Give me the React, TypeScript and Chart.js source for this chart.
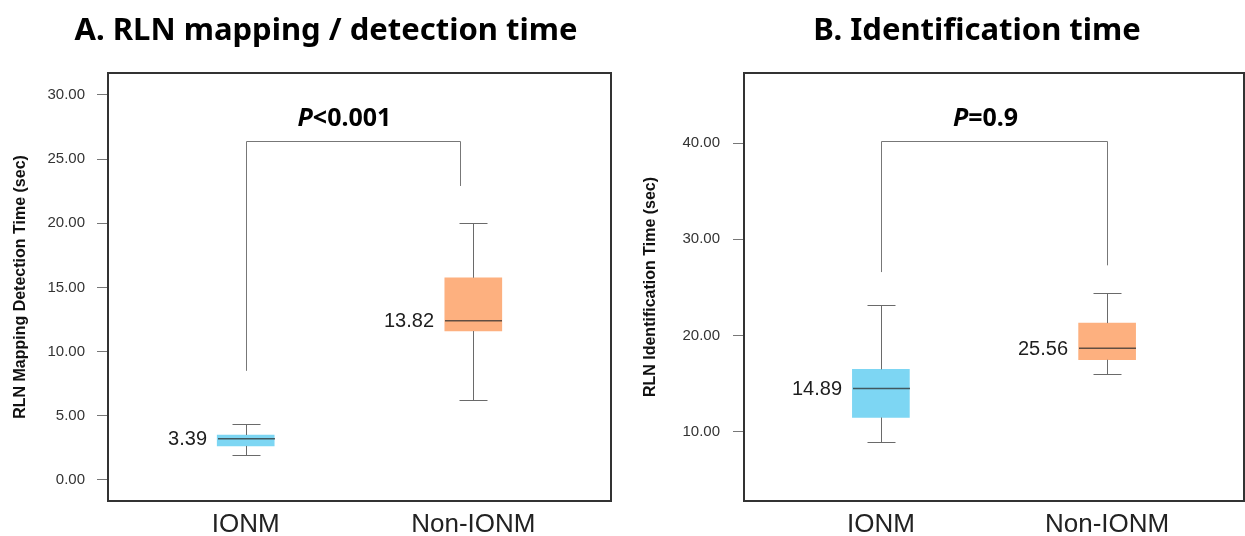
import React, { useEffect, useRef } from 'react';
import { Chart, registerables } from 'chart.js';

Chart.register(...registerables);

// ---------- data ----------
const categories = ['IONM', 'Non-IONM'];

// Panel A: RLN mapping / detection time (sec)
const mappingMin = [1.95, 6.2];
const mappingQ1 = [2.65, 11.6];
const mappingMedian = [3.2, 12.4];
const mappingQ3 = [3.5, 15.75];
const mappingMax = [4.35, 20.0];
const mappingMeanLabels = ['3.39', '13.82'];
const mappingTicks = [0, 5, 10, 15, 20, 25, 30];
const mappingBracket = [8.5, 26.4, 22.9]; // left leg bottom, top, right leg bottom
const mappingBracketX = [1, 1.94];
const mappingP = ['P', '<0.001'];

// Panel B: RLN identification time (sec)
const identMin = [9.0, 16.0];
const identQ1 = [11.5, 17.5];
const identMedian = [14.5, 18.7];
const identQ3 = [16.5, 21.3];
const identMax = [23.2, 24.4];
const identMeanLabels = ['14.89', '25.56'];
const identTicks = [10, 20, 30, 40];
const identBracket = [26.6, 40.2, 27.3];
const identBracketX = [1, 2];
const identP = ['P', '=0.9'];

const boxColors = ['#7DD6F3', '#FDB07F'];

interface Panel {
  yTitle: string;
  min: number[];
  q1: number[];
  median: number[];
  q3: number[];
  max: number[];
  meanLabels: string[];
  ticks: number[];
  yMin: number;
  yMax: number;
  bracket: number[];
  bracketX: number[];
  p: string[];
  axisWidth: number;
  padRight: number;
  titlePad: number;
  tickPad: number;
}

const panelA: Panel = {
  yTitle: 'RLN Mapping Detection Time (sec)',
  min: mappingMin,
  q1: mappingQ1,
  median: mappingMedian,
  q3: mappingQ3,
  max: mappingMax,
  meanLabels: mappingMeanLabels,
  ticks: mappingTicks,
  yMin: -1.64,
  yMax: 31.7,
  bracket: mappingBracket,
  bracketX: mappingBracketX,
  p: mappingP,
  axisWidth: 108,
  padRight: 9,
  titlePad: 10.5,
  tickPad: 12,
};

const panelB: Panel = {
  yTitle: 'RLN Identification Time (sec)',
  min: identMin,
  q1: identQ1,
  median: identMedian,
  q3: identQ3,
  max: identMax,
  meanLabels: identMeanLabels,
  ticks: identTicks,
  yMin: 2.83,
  yMax: 47.27,
  bracket: identBracket,
  bracketX: identBracketX,
  p: identP,
  axisWidth: 124,
  padRight: 1,
  titlePad: 20.5,
  tickPad: 13,
};

const SANS = '"Liberation Sans", Arial, sans-serif';
const HEAD = '"Noto Sans", "Open Sans", sans-serif';

function line(ctx: CanvasRenderingContext2D, x1: number, y1: number, x2: number, y2: number) {
  ctx.beginPath();
  ctx.moveTo(x1, y1);
  ctx.lineTo(x2, y2);
  ctx.stroke();
}

function makeDecor(panel: Panel) {
  return {
    id: 'boxDecor',
    afterDatasetsDraw(chart: any) {
      const { ctx, chartArea } = chart;
      const xs = chart.scales.x;
      const ys = chart.scales.y;
      const meta = chart.getDatasetMeta(0);
      const r = (v: number) => Math.round(v) + 0.5;
      ctx.save();
      categories.forEach((_, i) => {
        const cx = r(xs.getPixelForValue(i + 1));
        const el = meta.data[i];
        const bw = el && el.width ? el.width : 57;
        const capHalf = 14;
        // whiskers
        ctx.strokeStyle = '#6a6a6a';
        ctx.lineWidth = 1;
        const yMax = r(ys.getPixelForValue(panel.max[i]));
        const yMin = r(ys.getPixelForValue(panel.min[i]));
        const yQ1 = ys.getPixelForValue(panel.q1[i]);
        const yQ3 = ys.getPixelForValue(panel.q3[i]);
        line(ctx, cx, yQ3, cx, yMax);
        line(ctx, cx, yQ1, cx, yMin);
        line(ctx, cx - capHalf, yMax, cx + capHalf, yMax);
        line(ctx, cx - capHalf, yMin, cx + capHalf, yMin);
        // median
        const yMed = ys.getPixelForValue(panel.median[i]);
        ctx.strokeStyle = 'rgba(45,45,45,0.75)';
        ctx.lineWidth = 1.5;
        line(ctx, cx - bw / 2, yMed, cx + bw / 2, yMed);
        // mean label
        ctx.fillStyle = '#1e1e1e';
        ctx.font = `20px ${SANS}`;
        ctx.textAlign = 'right';
        ctx.textBaseline = 'middle';
        ctx.fillText(panel.meanLabels[i], cx - bw / 2 - 11, yMed + 1);
      });
      // bracket
      const bx1 = r(xs.getPixelForValue(panel.bracketX[0]));
      const bx2 = r(xs.getPixelForValue(panel.bracketX[1]));
      const byL = ys.getPixelForValue(panel.bracket[0]);
      const byT = r(ys.getPixelForValue(panel.bracket[1]));
      const byR = ys.getPixelForValue(panel.bracket[2]);
      ctx.strokeStyle = '#777';
      ctx.lineWidth = 1;
      ctx.beginPath();
      ctx.moveTo(bx1, byL);
      ctx.lineTo(bx1, byT);
      ctx.lineTo(bx2, byT);
      ctx.lineTo(bx2, byR);
      ctx.stroke();
      // P value
      const fontP = `italic bold 25px ${HEAD}`;
      const fontRest = `bold 25px ${HEAD}`;
      ctx.font = fontP;
      const wP = ctx.measureText(panel.p[0]).width;
      ctx.font = fontRest;
      const wR = ctx.measureText(panel.p[1]).width;
      const centerX = (bx1 + bx2) / 2 - 9;
      const startX = centerX - (wP + wR) / 2;
      const baseY = byT - 16;
      ctx.fillStyle = '#000';
      ctx.textAlign = 'left';
      ctx.textBaseline = 'alphabetic';
      ctx.font = fontP;
      ctx.fillText(panel.p[0], startX, baseY);
      ctx.font = fontRest;
      ctx.fillText(panel.p[1], startX + wP, baseY);
      // frame
      ctx.strokeStyle = '#333';
      ctx.lineWidth = 2;
      ctx.strokeRect(
        chartArea.left,
        chartArea.top,
        chartArea.right - chartArea.left,
        chartArea.bottom - chartArea.top
      );
      ctx.restore();
    },
  };
}

function buildConfig(panel: Panel): any {
  return {
    type: 'bar',
    data: {
      datasets: [
        {
          data: categories.map((_, i) => ({ x: i + 1, y: [panel.q1[i], panel.q3[i]] })),
          backgroundColor: boxColors,
          borderWidth: 0,
          barThickness: 57,
          grouped: false,
        },
      ],
    },
    options: {
      responsive: false,
      animation: false,
      events: [],
      layout: { padding: { top: 73, right: panel.padRight, left: 0, bottom: 0 } },
      plugins: {
        legend: { display: false },
        tooltip: { enabled: false },
        title: { display: false },
      },
      scales: {
        x: {
          type: 'linear',
          min: 0.395,
          max: 2.605,
          offset: false,
          afterBuildTicks: (s: any) => {
            s.ticks = categories.map((_, i) => ({ value: i + 1 }));
          },
          afterFit: (s: any) => {
            s.height = 35;
          },
          grid: { display: false, drawTicks: false },
          border: { display: false },
          ticks: {
            autoSkip: false,
            maxRotation: 0,
            padding: 8,
            color: '#222',
            font: { family: SANS, size: 26 },
            callback: (_v: any, i: number) => categories[i],
          },
        },
        y: {
          type: 'linear',
          min: panel.yMin,
          max: panel.yMax,
          afterBuildTicks: (s: any) => {
            s.ticks = panel.ticks.map((v) => ({ value: v }));
          },
          afterFit: (s: any) => {
            s.width = panel.axisWidth;
          },
          grid: { drawOnChartArea: false, drawTicks: true, tickLength: 11, color: '#777', lineWidth: 1 },
          border: { display: false },
          ticks: {
            padding: panel.tickPad,
            color: '#333',
            font: { family: SANS, size: 15 },
            callback: (v: any) => Number(v).toFixed(2),
          },
          title: {
            display: true,
            text: panel.yTitle,
            color: '#111',
            font: { family: SANS, size: 16, weight: 'bold' },
            padding: { top: panel.titlePad, bottom: 0 },
          },
        },
      },
    },
    plugins: [makeDecor(panel)],
  };
}

function BoxChart({ panel, width, height }: { panel: Panel; width: number; height: number }) {
  const ref = useRef<HTMLCanvasElement | null>(null);
  useEffect(() => {
    if (!ref.current) return;
    const chart = new Chart(ref.current, buildConfig(panel));
    return () => chart.destroy();
  }, [panel]);
  return <canvas ref={ref} width={width} height={height} style={{ display: 'block' }} />;
}

const titleStyle: React.CSSProperties = {
  position: 'absolute',
  top: 6,
  margin: 0,
  fontFamily: HEAD,
  fontWeight: 700,
  fontSize: 31,
  lineHeight: '44px',
  color: '#000',
  textAlign: 'center',
  whiteSpace: 'nowrap',
};

export default function App() {
  return (
    <div
      style={{
        position: 'fixed',
        left: 0,
        top: 0,
        width: 1245,
        height: 536,
        background: '#fff',
        overflow: 'hidden',
      }}
    >
      <div style={{ position: 'absolute', left: 0, top: 0 }}>
        <BoxChart panel={panelA} width={620} height={536} />
      </div>
      <div style={{ position: 'absolute', left: 620, top: 0 }}>
        <BoxChart panel={panelB} width={625} height={536} />
      </div>
      <div style={{ ...titleStyle, left: 26, width: 600 }}>A. RLN mapping / detection time</div>
      <div style={{ ...titleStyle, left: 677, width: 600 }}>B. Identification time</div>
    </div>
  );
}
